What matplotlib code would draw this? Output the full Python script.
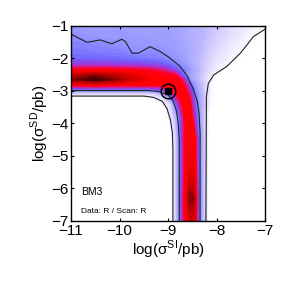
import numpy as np
import matplotlib.pyplot as plt
from matplotlib.colors import LinearSegmentedColormap

plt.rcParams['font.family'] = ['Liberation Sans', 'DejaVu Sans']
plt.rcParams['mathtext.fontset'] = 'custom'
plt.rcParams['mathtext.rm'] = 'Liberation Sans'

# profile likelihood map, values in % of the maximum
si = [-11, -10.5, -10, -9.6, -9.3, -9.1, -8.95, -8.85, -8.75, -8.65, -8.55, -8.45, -8.35, -8.25, -8.15, -8.0, -7.7,
      -7.35, -7.0]
sd = [-1.0, -1.3, -1.55, -1.8, -2.0, -2.2, -2.35, -2.5, -2.65, -2.8, -2.95, -3.08, -3.2, -3.4, -3.8, -4.5, -5.5, -6.3,
      -7.0]
like = [
    [37, 37, 37, 36, 36, 35, 35, 34, 33, 32, 30, 28, 26, 24, 22, 18, 12, 7, 4],
    [42, 39, 39, 38, 37, 37, 36, 35, 34, 32, 30, 28, 26, 24, 21, 17, 11, 5, 2],
    [45, 43, 41, 39, 39, 38, 37, 36, 35, 33, 31, 28, 25, 22, 19, 15, 8, 3, 1],
    [47, 46, 45, 41, 43, 41, 39, 38, 36, 34, 31, 28, 25, 21, 17, 12, 6, 2, 0],
    [50, 50, 49, 47, 46, 44, 42, 40, 38, 35, 31, 27, 23, 19, 15, 10, 5, 1, 0],
    [60, 60, 59, 58, 56, 53, 49, 45, 42, 38, 33, 28, 23, 18, 13, 7, 3, 0, 0],
    [76, 78, 76, 74, 71, 66, 60, 54, 49, 44, 38, 31, 24, 18, 12, 6, 1, 0, 0],
    [88, 92, 88, 84, 80, 76, 74, 72, 58, 44, 35, 28, 22, 16, 8, 2, 0, 0, 0],
    [93, 98, 92, 86, 82, 80, 79, 78, 74, 60, 38, 28, 21, 14, 6, 1, 0, 0, 0],
    [82, 85, 82, 80, 80, 80, 80, 80, 79, 70, 52, 38, 25, 16, 6, 0, 0, 0, 0],
    [48, 50, 50, 50, 52, 60, 72, 78, 80, 76, 60, 42, 28, 17, 6, 0, 0, 0, 0],
    [12, 12, 12, 12, 14, 30, 55, 72, 80, 80, 66, 46, 30, 18, 6, 0, 0, 0, 0],
    [1, 1, 1, 1, 3, 12, 42, 62, 78, 82, 72, 50, 32, 18, 5, 0, 0, 0, 0],
    [0, 0, 0, 0, 0, 3, 14, 45, 68, 82, 78, 52, 35, 18, 5, 0, 0, 0, 0],
    [0, 0, 0, 0, 0, 0, 6, 22, 52, 78, 82, 62, 36, 14, 1, 0, 0, 0, 0],
    [0, 0, 0, 0, 0, 0, 0, 12, 48, 76, 83, 80, 42, 14, 0, 0, 0, 0, 0],
    [0, 0, 0, 0, 0, 0, 0, 12, 48, 76, 86, 84, 42, 14, 0, 0, 0, 0, 0],
    [0, 0, 0, 0, 0, 0, 0, 12, 50, 80, 94, 92, 44, 14, 0, 0, 0, 0, 0],
    [0, 0, 0, 0, 0, 0, 0, 12, 48, 78, 88, 86, 42, 14, 0, 0, 0, 0, 0],
]

# credible region contours
c1_lo_si = [-11, -9.4, -9.2, -9.0, -8.9, -8.83, -8.79, -8.77, -8.77]
c1_lo_sd = [-2.99, -2.99, -3.02, -3.12, -3.3, -3.6, -4.0, -4.5, -7]
c2_lo_si = [-11, -9.5, -9.3, -9.12, -9.02, -8.95, -8.91, -8.9, -8.9]
c2_lo_sd = [-3.16, -3.16, -3.2, -3.32, -3.55, -3.9, -4.3, -4.8, -7]
c1_hi_si = [-11, -10.67, -10.4, -10.16, -9.95, -9.88, -9.74, -9.61, -9.37, -9.16, -8.96, -8.75, -8.6, -8.48, -8.4,
            -8.36, -8.34, -8.34]
c1_hi_sd = [-1.25, -1.51, -1.43, -1.55, -1.41, -1.48, -1.84, -1.84, -1.64, -1.79, -1.99, -2.25, -2.55, -2.95, -3.3,
            -3.7, -4.3, -7]
c2_hi_si = [-7, -7.24, -7.51, -7.79, -8.06, -8.17, -8.21, -8.22]
c2_hi_sd = [-1.1, -1.33, -1.84, -2.25, -2.51, -2.77, -3.18, -7]

bench_si, bench_sd = -9.0, -3.0

cmap = LinearSegmentedColormap.from_list('like', [
    (0.00, '#ffffff'), (0.02, '#ffffff'), (0.06, '#f2eeff'), (0.15, '#dcd4ff'), (0.25, '#bcb6ff'),
    (0.33, '#a8a8ff'), (0.42, '#9090ff'), (0.50, '#7068ff'), (0.58, '#9040e8'), (0.66, '#d020a0'),
    (0.74, '#ff0020'), (0.82, '#ff0000'), (0.90, '#c00000'), (0.96, '#600000'), (1.00, '#200000')])

fig = plt.figure(figsize=(2.91, 2.91), dpi=100)
ax = fig.add_axes([0.244, 0.241, 0.667, 0.670])

X, Y = np.meshgrid(si, sd)
ax.contourf(X, Y, np.array(like), levels=np.linspace(0, 100, 51), cmap=cmap, vmin=0, vmax=100)

for cx, cy in [(c1_lo_si, c1_lo_sd), (c2_lo_si, c2_lo_sd), (c1_hi_si, c1_hi_sd), (c2_hi_si, c2_hi_sd)]:
    ax.plot(cx, cy, color='#222222', lw=0.8)

ax.plot(bench_si, bench_sd, 's', color='black', ms=5)
ax.plot(bench_si, bench_sd, 'o', mfc='none', mec='black', mew=1.1, ms=10.5)

ax.text(-10.8, -6.1, 'BM3', fontsize=7.5, va='center')
ax.text(-10.8, -6.72, 'Data: R / Scan: R', fontsize=6, va='center')

ax.set_xlim(-11, -7)
ax.set_ylim(-7, -1)
ax.set_xticks([-11, -10, -9, -8, -7])
ax.set_yticks([-7, -6, -5, -4, -3, -2, -1])
ax.set_xticklabels(['\u221211', '\u221210', '\u22129', '\u22128', '\u22127'])
ax.set_yticklabels(['\u22127', '\u22126', '\u22125', '\u22124', '\u22123', '\u22122', '\u22121'])
ax.tick_params(direction='in', length=2.5, width=0.8, top=True, right=True, labelsize=11, pad=2)
for s in ax.spines.values():
    s.set_linewidth(1.0)
ax.set_xlabel('log(σ$^{\\mathrm{SI}}$/pb)', fontsize=11, labelpad=1)
ax.set_ylabel('log(σ$^{\\mathrm{SD}}$/pb)', fontsize=11, labelpad=0)

fig.savefig('out.png', dpi=100)
